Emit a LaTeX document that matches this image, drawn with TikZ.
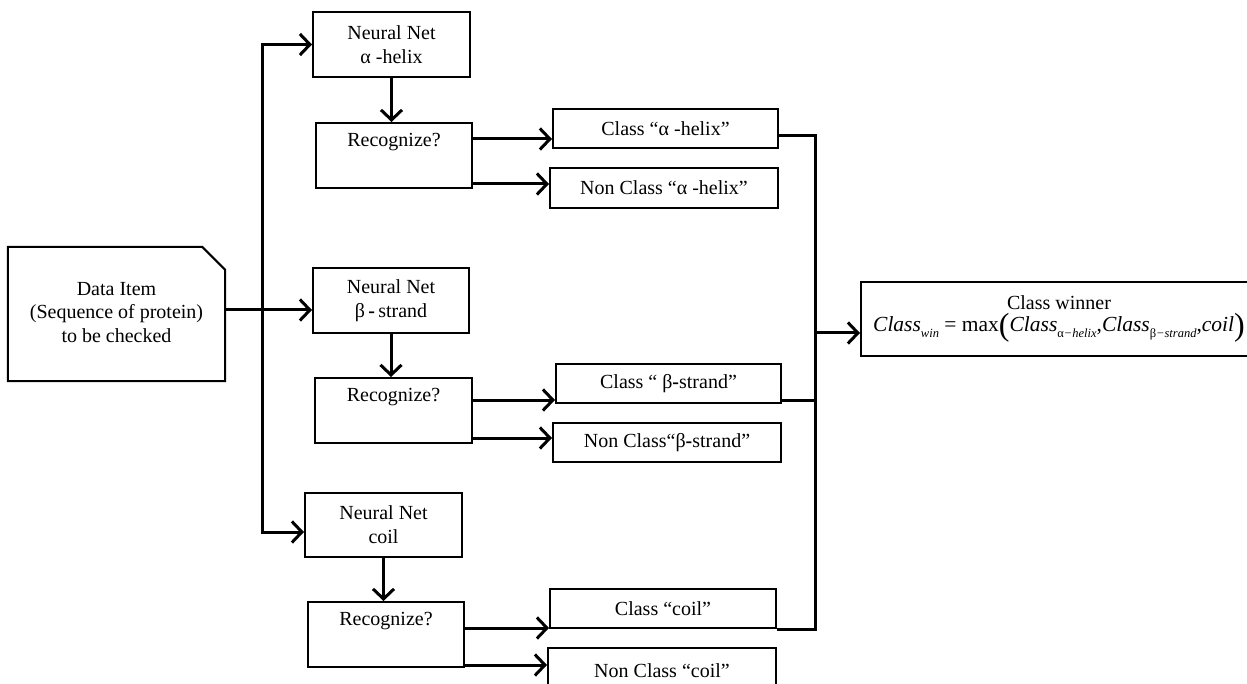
\documentclass[tikz,border=0pt]{standalone}
\usepackage{fontspec}
\setmainfont{Liberation Serif}
\usetikzlibrary{arrows.meta}
\newcommand\sbs[1]{\raisebox{-5.5pt}{\fontsize{12.5}{12.5}\selectfont #1}}
\newcommand\bigpar[1]{\raisebox{-4pt}{\fontsize{32}{32}\selectfont #1}}
\begin{document}
\begin{tikzpicture}[x=1pt,y=-1pt,
  box/.style={draw, line width=2pt, inner sep=0pt, align=center, font=\fontsize{20}{24}\selectfont},
  rlab/.style={anchor=north, yshift=-11pt, inner sep=0pt, font=\fontsize{20}{24}\selectfont},
  conn/.style={line width=3pt, line join=miter},
  arr/.style={conn, -{Straight Barb[length=10pt,width=21pt,line width=3pt]}},
  barr/.style={conn, {Straight Barb[length=10pt,width=21pt,line width=3pt]}-{Straight Barb[length=10pt,width=21pt,line width=3pt]}},
]
\useasboundingbox (0,0) rectangle (1247,684);
\fill[white] (0,0) rectangle (1247,684);

% data item
\node[inner sep=0pt, minimum width=217pt, minimum height=134pt, align=center,
      font=\fontsize{20}{23.5}\selectfont] (data) at (116.5,314)
  {\raisebox{-9pt}{\begin{tabular}{@{}c@{}}Data Item\\(Sequence of protein)\\to be checked\end{tabular}}};
\draw[line width=2pt, line join=miter] (data.north west) -- ([xshift=-23pt]data.north east)
  -- ([yshift=-23pt]data.north east) -- (data.south east) -- (data.south west) -- cycle;

% alpha
\node[box, minimum width=157pt, minimum height=65pt] (nna) at (391.5,44.5) {Neural Net\\α -helix};
\node[box, minimum width=156pt, minimum height=65pt, label={[rlab]north:Recognize?}] (ra) at (394,155.5) {};
\node[box, minimum width=225pt, minimum height=39pt] (ca) at (665.5,128.5) {Class “α -helix”};
\node[box, minimum width=228pt, minimum height=40pt] (nca) at (664,188) {Non Class “α -helix”};

% beta
\node[box, minimum width=156pt, minimum height=65pt] (nnb) at (391,300.5) {Neural Net\\β\,{\bfseries -}\,strand};
\node[box, minimum width=157pt, minimum height=65pt, label={[rlab]north:Recognize?}] (rb) at (393.5,410.5) {};
\node[box, minimum width=225pt, minimum height=39pt] (cb) at (668.5,383.5) {Class “ β{\bfseries -}strand”};
\node[box, minimum width=228pt, minimum height=39pt] (ncb) at (667,442.5) {Non Class“β{\bfseries -}strand”};

% coil
\node[box, minimum width=157pt, minimum height=64pt] (ncl) at (383.5,525) {Neural Net\\coil};
\node[box, minimum width=156pt, minimum height=65pt, label={[rlab]north:Recognize?}] (rc) at (386,634.5) {};
\node[box, minimum width=226pt, minimum height=39pt] (cc) at (663,608.5) {Class “coil”};
\node[box, minimum width=228pt, minimum height=52pt] (ncc) at (662,674) {\raisebox{7pt}{Non Class “coil”}};

% winner
\node[box, minimum width=396pt, minimum height=74pt] (win) at (1059,319)
  {Class winner\\[-2pt]
   \fontsize{21.5}{24}\selectfont{\itshape Class}\sbs{\itshape win} = max\bigpar{(}{\itshape Class}\sbs{α{\itshape −helix}},{\itshape Class}\sbs{β{\itshape −strand}},{\itshape coil}\bigpar{)}};

% helper coordinates
\coordinate (busl) at (262,0);
\coordinate (busr) at (815,0);
\coordinate (yd) at (0,310);
\coordinate (ycl) at (0,532);
\coordinate (ya1) at (0,139);
\coordinate (ya2) at (0,184);
\coordinate (yb1) at (0,400);
\coordinate (yb2) at (0,438);
\coordinate (yc1) at (0,628);
\coordinate (yc2) at (0,665);
\coordinate (yca) at (0,136);
\coordinate (ycb) at (0,400);
\coordinate (ywin) at (0,333);

% left bus
\draw[barr] (nna.west) -- (busl |- nna.west) -- (busl |- ycl) -- (ncl.west |- ycl);
\draw[arr] (data.east |- yd) -- (nnb.west |- yd);

% down arrows
\draw[arr] (nna.south) -- (nna.south |- ra.north);
\draw[arr] (nnb.south) -- (nnb.south |- rb.north);
\draw[arr] (ncl.south) -- (ncl.south |- rc.north);

% recognize outputs
\draw[arr] (ra.east |- ya1) -- (ca.west |- ya1);
\draw[arr] (ra.east |- ya2) -- (nca.west |- ya2);
\draw[arr] (rb.east |- yb1) -- (cb.west |- yb1);
\draw[arr] (rb.east |- yb2) -- (ncb.west |- yb2);
\draw[arr] (rc.east |- yc1) -- (cc.west |- yc1);
\draw[arr] (rc.east |- yc2) -- (ncc.west |- yc2);

% right bus
\draw[conn] (ca.east |- yca) -- (busr |- yca) -- (busr |- cc.south east) -- (cc.south east);
\draw[conn] (cb.east |- ycb) -- (busr |- ycb);
\draw[arr] (busr |- ywin) -- (win.west |- ywin);
\end{tikzpicture}
\end{document}
